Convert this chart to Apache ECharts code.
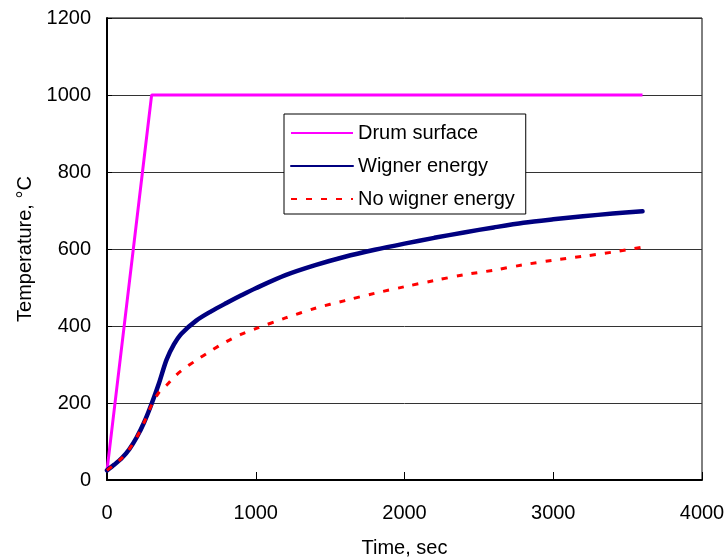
<!DOCTYPE html>
<html>
<head>
<meta charset="utf-8">
<script src="https://cdn.jsdelivr.net/npm/echarts@6/dist/echarts.min.js"></script>
<style>
  html, body { margin: 0; padding: 0; background: #fff; }
  #chart { width: 725px; height: 559px; }
</style>
</head>
<body>
<div id="chart"></div>
<script>
// values
const drumTime = [0, 300, 3600]
const drumTemp = [25, 1000, 1000]

const time = [0, 50, 100, 150, 200, 250, 300, 350, 400, 450, 500, 600, 700, 800, 900,
  1000, 1200, 1400, 1600, 1800, 2000, 2200, 2400, 2600, 2800, 3000, 3200, 3400, 3600]
const wigner = [25, 40, 57, 80, 111, 150, 198, 252, 312, 352, 380, 414, 438, 459, 479,
  498, 532, 558, 580, 598, 614, 629, 643, 656, 668, 677, 685, 692, 698]
const noWigner = [25, 40, 57, 80, 111, 150, 195, 228, 246, 267, 284, 311, 336, 359, 378,
  393, 421, 446, 466, 485, 502, 518, 533, 545, 559, 571, 581, 592, 605]

const xTicks = { min: 0, max: 4000, interval: 1000 }
const yTicks = { min: 0, max: 1200, interval: 200 }

const pairs = (xs, ys) => xs.map((x, i) => [x, ys[i]])

const font = 'Liberation Sans, Arial, sans-serif'

const chart = echarts.init(document.getElementById('chart'))

const option = {
  animation: false,
  grid: {
    left: 107,
    top: 18,
    right: 23,
    bottom: 79,
    outerBoundsMode: 'none',
    containLabel: false,
    show: true,
    borderColor: '#000',
    borderWidth: 1
  },
  legend: {
    orient: 'vertical',
    left: 284,
    top: 114,
    padding: [9, 11, 5, 6],
    itemWidth: 62,
    itemHeight: 14,
    itemGap: 13,
    borderColor: '#000',
    borderWidth: 1,
    backgroundColor: '#fff',
    itemStyle: { opacity: 0 },
    textStyle: { fontFamily: font, fontSize: 20, color: '#000' },
    data: ['Drum surface', 'Wigner energy', 'No wigner energy']
  },
  xAxis: {
    type: 'value',
    min: xTicks.min,
    max: xTicks.max,
    interval: xTicks.interval,
    name: 'Time, sec',
    nameLocation: 'middle',
    nameGap: 58,
    nameTextStyle: { fontFamily: font, fontSize: 20, color: '#000' },
    axisLine: { lineStyle: { color: '#000', width: 2 } },
    axisTick: { inside: true, length: 8, lineStyle: { color: '#000' } },
    axisLabel: { fontFamily: font, fontSize: 20, color: '#000', margin: 23, formatter: v => String(v) },
    splitLine: { show: false }
  },
  yAxis: {
    type: 'value',
    min: yTicks.min,
    max: yTicks.max,
    interval: yTicks.interval,
    name: 'Temperature, °C',
    nameLocation: 'middle',
    nameGap: 71,
    nameTextStyle: { fontFamily: font, fontSize: 20, color: '#000' },
    axisLine: { show: true, lineStyle: { color: '#000', width: 2 } },
    axisTick: { show: true, inside: true, length: 5, lineStyle: { color: '#000' } },
    axisLabel: { fontFamily: font, fontSize: 20, color: '#000', margin: 16, formatter: v => String(v) },
    splitLine: { lineStyle: { color: '#333', width: 1 } }
  },
  series: [
    {
      name: 'Drum surface',
      type: 'line',
      data: pairs(drumTime, drumTemp),
      showSymbol: false,
      symbol: 'none',
      lineStyle: { color: '#FF00FF', width: 3 },
      itemStyle: { color: '#FF00FF' }
    },
    {
      name: 'Wigner energy',
      type: 'line',
      data: pairs(time, wigner),
      smooth: 0.3,
      showSymbol: false,
      symbol: 'none',
      lineStyle: { color: '#000080', width: 4.5, cap: 'round' },
      itemStyle: { color: '#000080' }
    },
    {
      name: 'No wigner energy',
      type: 'line',
      data: pairs(time, noWigner),
      smooth: 0.3,
      showSymbol: false,
      symbol: 'none',
      lineStyle: { color: '#FF0000', width: 3, type: [6, 9] },
      itemStyle: { color: '#FF0000' }
    }
  ]
}

chart.setOption(option)
</script>
</body>
</html>
